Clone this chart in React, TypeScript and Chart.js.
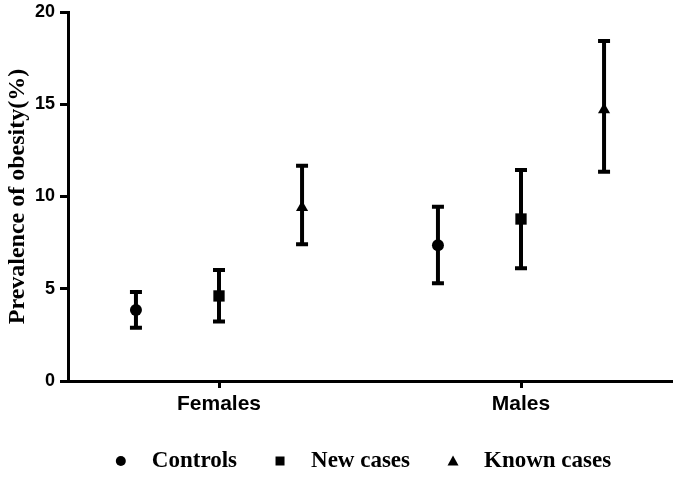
import React, { useEffect, useRef } from 'react';
import { Chart, registerables } from 'chart.js';

Chart.register(...registerables);

const categories = ['Females', 'Males'];
const seriesNames = ['Controls', 'New cases', 'Known cases'];

const controlsMean = [3.85, 7.36];
const controlsLow = [2.89, 5.3];
const controlsHigh = [4.82, 9.44];

const newMean = [4.61, 8.78];
const newLow = [3.22, 6.11];
const newHigh = [6.02, 11.44];

const knownMean = [9.4, 14.7];
const knownLow = [7.41, 11.34];
const knownHigh = [11.67, 18.43];

const yTicks = [0, 5, 10, 15, 20];

const means = [controlsMean, newMean, knownMean];
const lows = [controlsLow, newLow, knownLow];
const highs = [controlsHigh, newHigh, knownHigh];

const pointStyles = ['circle', 'rect', 'triangle'];
const pointRadii = [6, 8, 7];
const dodge = [-0.275, 0, 0.275];

const errorBarPlugin = {
  id: 'errorBars',
  beforeDatasetsDraw(chart: any) {
    const { ctx } = chart;
    const x = chart.scales.x;
    const y = chart.scales.y;
    ctx.save();
    ctx.strokeStyle = '#000';
    ctx.lineWidth = 4;
    ctx.lineCap = 'butt';
    chart.data.datasets.forEach((ds: any) => {
      ds.data.forEach((p: any) => {
        const px = x.getPixelForValue(p.x);
        const yl = y.getPixelForValue(p.low);
        const yh = y.getPixelForValue(p.high);
        ctx.beginPath();
        ctx.moveTo(px, yl);
        ctx.lineTo(px, yh);
        ctx.stroke();
        ctx.beginPath();
        ctx.moveTo(px - 6, yl);
        ctx.lineTo(px + 6, yl);
        ctx.moveTo(px - 6, yh);
        ctx.lineTo(px + 6, yh);
        ctx.stroke();
      });
    });
    ctx.restore();
  },
};

const legendPlugin = {
  id: 'customLegend',
  afterDraw(chart: any) {
    const { ctx } = chart;
    ctx.save();
    ctx.font = 'bold 23px "Liberation Serif", "Times New Roman", serif';
    ctx.fillStyle = '#000';
    ctx.textBaseline = 'alphabetic';
    ctx.textAlign = 'left';
    const markerToText = 31;
    const itemGap = 43;
    const widths = seriesNames.map((s) => ctx.measureText(s).width);
    const total = widths.reduce((a: number, w: number) => a + w + markerToText, 0) + itemGap * (seriesNames.length - 1);
    let cx = 366 - total / 2;
    const my = 461;
    const ty = 467;
    seriesNames.forEach((name, i) => {
      ctx.beginPath();
      if (pointStyles[i] === 'circle') {
        ctx.arc(cx, my, 5, 0, Math.PI * 2);
      } else if (pointStyles[i] === 'rect') {
        ctx.rect(cx - 4.5, my - 4.5, 9, 9);
      } else {
        ctx.moveTo(cx, my - 5.5);
        ctx.lineTo(cx + 5.5, my + 4.5);
        ctx.lineTo(cx - 5.5, my + 4.5);
        ctx.closePath();
      }
      ctx.fill();
      ctx.fillText(name, cx + markerToText, ty);
      cx += markerToText + widths[i] + itemGap;
    });
    ctx.restore();
  },
};

export default function App() {
  const canvasRef = useRef<HTMLCanvasElement | null>(null);

  useEffect(() => {
    if (!canvasRef.current) return;
    const datasets = seriesNames.map((name, si) => ({
      label: name,
      data: categories.map((_, ci) => ({
        x: ci + dodge[si],
        y: means[si][ci],
        low: lows[si][ci],
        high: highs[si][ci],
      })),
      pointStyle: pointStyles[si],
      pointRadius: pointRadii[si],
      pointHoverRadius: pointRadii[si],
      backgroundColor: '#000',
      borderColor: '#000',
      borderWidth: 0,
      showLine: false,
    }));

    const chart = new Chart(canvasRef.current, {
      type: 'scatter',
      data: { datasets },
      options: {
        responsive: false,
        devicePixelRatio: 1,
        animation: false,
        layout: { autoPadding: false, padding: { left: 0, top: 12, right: 3, bottom: 0 } },
        plugins: {
          legend: { display: false },
          tooltip: { enabled: false },
        },
        scales: {
          x: {
            type: 'linear',
            min: -0.5,
            max: 1.5,
            afterBuildTicks: (scale: any) => {
              scale.ticks = categories.map((_, i) => ({ value: i }));
            },
            afterFit: (scale: any) => {
              scale.height = 119;
              scale.paddingLeft = 0;
              scale.paddingRight = 0;
            },
            ticks: {
              callback: (v: any) => categories[Math.round(Number(v))] ?? '',
              color: '#000',
              font: { family: '"Liberation Sans", Arial, sans-serif', weight: 'bold', size: 21 },
              padding: 4,
              maxRotation: 0,
              autoSkip: false,
            },
            grid: {
              display: true,
              drawOnChartArea: false,
              drawTicks: true,
              tickLength: 7,
              tickWidth: 3,
              tickColor: '#000',
            },
            border: { display: true, color: '#000', width: 3 },
          },
          y: {
            type: 'linear',
            min: 0,
            max: 20,
            afterBuildTicks: (scale: any) => {
              scale.ticks = yTicks.map((v) => ({ value: v }));
            },
            afterFit: (scale: any) => {
              scale.width = 68;
              scale.paddingTop = 0;
              scale.paddingBottom = 0;
            },
            ticks: {
              color: '#000',
              font: { family: '"Liberation Sans", Arial, sans-serif', weight: 'bold', size: 18 },
              padding: 5,
            },
            grid: {
              display: true,
              drawOnChartArea: false,
              drawTicks: true,
              tickLength: 8,
              tickWidth: 3,
              tickColor: '#000',
            },
            border: { display: true, color: '#000', width: 3 },
            title: {
              display: true,
              text: 'Prevalence of obesity(%)',
              color: '#000',
              font: { family: '"Liberation Serif", "Times New Roman", serif', weight: 'bold', size: 24 },
              padding: { top: 3, bottom: 0 },
            },
          },
        },
      },
      plugins: [errorBarPlugin, legendPlugin],
    } as any);

    return () => chart.destroy();
  }, []);

  return (
    <div style={{ position: 'absolute', left: 0, top: 0, width: 675, height: 500, background: '#fff' }}>
      <canvas ref={canvasRef} width={675} height={500} />
    </div>
  );
}
